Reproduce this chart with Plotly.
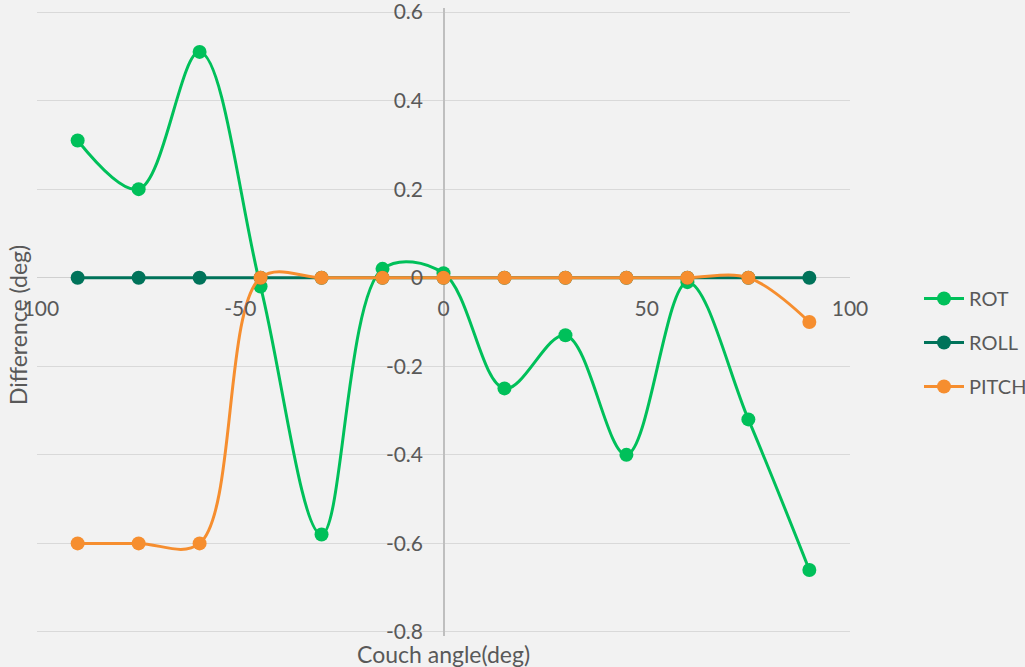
import plotly.graph_objects as go

angles = [-90, -75, -60, -45, -30, -15, 0, 15, 30, 45, 60, 75, 90]
rot = [0.31, 0.20, 0.51, -0.02, -0.58, 0.02, 0.01, -0.25, -0.13, -0.40, -0.01, -0.32, -0.66]
roll = [0, 0, 0, 0, 0, 0, 0, 0, 0, 0, 0, 0, 0]
pitch = [-0.6, -0.6, -0.6, 0, 0, 0, 0, 0, 0, 0, 0, 0, -0.1]

x_ticks = [-100, -50, 0, 50, 100]
x_labels = ["-100", "-50", "0", "50", "100"]
y_ticks = [-0.8, -0.6, -0.4, -0.2, 0, 0.2, 0.4, 0.6]
y_labels = ["-0.8", "-0.6", "-0.4", "-0.2", "0", "0.2", "0.4", "0.6"]

W, H = 1025, 667
L, R, T, B = 37, 850, 7.6, 636.4
font = "Lato, 'Open Sans', sans-serif"
gray = "#595959"

fig = go.Figure()
series = [("ROT", rot, "#00c05a"), ("ROLL", roll, "#00735a"), ("PITCH", pitch, "#f68e2f")]
for name, vals, col in series:
    fig.add_trace(go.Scatter(
        x=angles, y=vals, name=name, mode="lines+markers", legendgroup=name,
        line=dict(color=col, width=3, shape="spline", smoothing=1),
        marker=dict(color=col, size=14),
    ))

fig.update_layout(
    width=W, height=H,
    margin=dict(l=0, r=0, t=0, b=0, autoexpand=False),
    paper_bgcolor="#f2f2f2", plot_bgcolor="#f2f2f2",
    font=dict(family=font, size=21, color=gray),
    showlegend=True,
    legend=dict(x=919 / W, y=1 - 279 / H, xanchor="left", yanchor="top",
                bgcolor="rgba(0,0,0,0)", font=dict(size=20, color=gray),
                tracegroupgap=15, itemwidth=40),
    xaxis=dict(
        domain=[L / W, R / W], range=[-100, 100], automargin=False,
        tickvals=x_ticks, ticktext=x_labels, tickfont=dict(size=21, color=gray),
        showgrid=False, zeroline=True, zerolinecolor="#bfbfbf", zerolinewidth=1.5,
        showline=False, ticks="", anchor="free", position=1 - 278 / H,
        ticklabelstandoff=16, ticklabeloverflow="allow",
    ),
    yaxis=dict(
        domain=[1 - B / H, 1 - T / H], range=[-0.81, 0.61], automargin=False,
        tickvals=y_ticks, ticktext=y_labels, tickfont=dict(size=21, color=gray),
        showgrid=True, gridcolor="#d9d9d9", gridwidth=1.2,
        zeroline=True, zerolinecolor="#d0d0d0", zerolinewidth=1.2,
        showline=False, ticks="", anchor="free", position=443 / W,
        ticklabelstandoff=20, ticklabeloverflow="allow",
    ),
    annotations=[
        dict(text="Couch angle(deg)", x=443 / W, y=1 - 654 / H, xref="paper", yref="paper",
             showarrow=False, font=dict(size=23, color=gray), xanchor="center", yanchor="middle"),
        dict(text="Difference (deg)", x=18 / W, y=1 - 325 / H, xref="paper", yref="paper",
             showarrow=False, textangle=-90, font=dict(size=23, color=gray),
             xanchor="center", yanchor="middle"),
    ],
)

fig.write_html("out.html", config={"displayModeBar": False},
               post_script="document.body.style.margin='0';document.body.style.background='#f2f2f2';")
